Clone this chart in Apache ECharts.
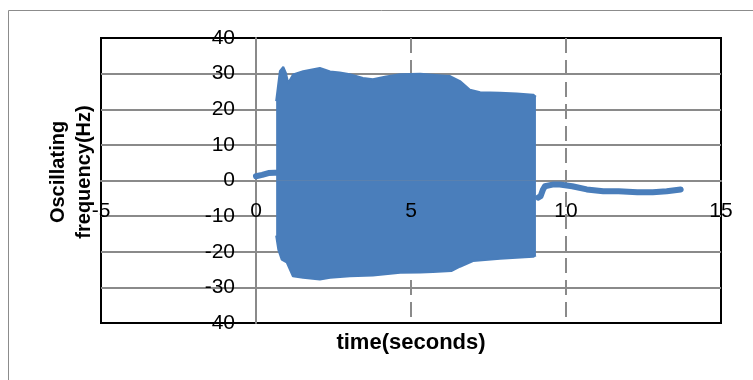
<!DOCTYPE html>
<html>
<head>
<meta charset="utf-8">
<script src="https://cdn.jsdelivr.net/npm/echarts@6/dist/echarts.min.js"></script>
<style>
html,body{margin:0;padding:0;background:#fff;}
#c{width:753px;height:380px;}
</style>
</head>
<body>
<div id="c"></div>
<script>
// Axis ticks
const xTicks = [-5, 0, 5, 10, 15];
const yTicks = [-40, -30, -20, -10, 0, 10, 20, 30, 40];

// Signal before oscillation (time s, frequency Hz)
const preT = [0, 0.2, 0.4, 0.6, 0.66];
const preV = [1.2, 1.6, 2.1, 2.2, 2.2];

// Upper envelope of oscillation
const upT = [0.65, 0.77, 0.88, 0.96, 1.04, 1.2, 1.52, 2.06, 2.39, 2.7, 3.03, 3.45, 3.77, 4.2, 4.65, 5.3, 6.0, 6.26, 6.58, 6.9, 7.23, 7.87, 8.41, 8.94, 9.03];
const upV = [22.3, 30.7, 31.9, 30.3, 27.4, 29.8, 30.7, 31.6, 30.6, 30.3, 29.8, 28.8, 28.4, 29.2, 29.8, 30.0, 29.5, 29.3, 27.9, 25.5, 24.8, 24.6, 24.4, 24.1, 23.5];

// Lower envelope of oscillation
const lowT = [0.65, 0.72, 0.83, 0.99, 1.19, 1.52, 2.06, 2.39, 3.03, 3.77, 4.65, 5.3, 5.71, 6.3, 6.58, 7.0, 7.87, 8.94, 9.03];
const lowV = [-15.5, -19.4, -22.2, -23.0, -26.9, -27.3, -27.8, -27.3, -26.9, -26.7, -25.9, -25.8, -25.7, -25.4, -24.2, -22.6, -22.0, -21.4, -21.0];

// Signal after oscillation
const postT = [9.1, 9.18, 9.26, 9.32, 9.6, 9.8, 10.2, 10.67, 11.2, 11.7, 12.3, 12.8, 13.25, 13.7];
const postV = [-4.8, -4.4, -2.5, -1.6, -1.1, -1.1, -1.6, -2.5, -3.0, -3.0, -3.3, -3.3, -3.0, -2.5];

const BLUE = '#4a7ebb';
const GRID = '#8a8a8a';
const FONT = 'Liberation Sans, Arial, sans-serif';

const zip = (a, b) => a.map((t, i) => [t, b[i]]);

const chart = echarts.init(document.getElementById('c'), null, {renderer: 'canvas'});
chart.setOption({
  animation: false,
  backgroundColor: '#fff',
  grid: {left: 101, top: 38, right: 32, bottom: 57, show: true, borderColor: '#000', borderWidth: 2,
    backgroundColor: 'transparent', containLabel: false, outerBoundsMode: 'none'},
  graphic: [
    {type: 'rect', z: -1, silent: true, shape: {x: 8.5, y: 10.5, width: 800, height: 400}, style: {fill: null, stroke: '#8c8c8c', lineWidth: 1}},
    {type: 'text', z: 10, x: 71, y: 172, rotation: Math.PI / 2,
      style: {text: 'Oscillating\nfrequency(Hz)', fontFamily: FONT, fontWeight: 'bold', fontSize: 20, lineHeight: 26,
        fill: '#000', align: 'center', verticalAlign: 'middle'}}
  ],
  xAxis: [
    {
      type: 'value', min: xTicks[0], max: xTicks[xTicks.length - 1], interval: 5, position: 'bottom', z: 0,
      offset: -142,
      axisLine: {show: true, onZero: false, lineStyle: {color: GRID, width: 2}},
      axisTick: {show: false}, axisLabel: {show: false},
      splitLine: {show: true, showMinLine: false, showMaxLine: false, lineStyle: {color: GRID, width: 2, type: [15, 7]}}
    },
    {
      type: 'value', min: xTicks[0], max: xTicks[xTicks.length - 1], interval: 5, position: 'bottom', z: 10,
      offset: -142,
      axisLine: {show: false, onZero: false}, axisTick: {show: false}, splitLine: {show: false},
      axisLabel: {show: true, margin: 20, color: '#000', fontSize: 21, fontFamily: FONT, showMinLabel: true, showMaxLabel: true},
      name: 'time(seconds)', nameLocation: 'middle', nameGap: 151,
      nameTextStyle: {color: '#000', fontSize: 22, fontWeight: 'bold', fontFamily: FONT}
    }
  ],
  yAxis: {
    type: 'value', min: yTicks[0], max: yTicks[yTicks.length - 1], interval: 10, position: 'left',
    offset: -155,
    axisLine: {show: true, onZero: false, lineStyle: {color: GRID, width: 2}},
    axisTick: {show: false},
    axisLabel: {margin: 21, color: '#000', fontSize: 21, fontFamily: FONT},
    splitLine: {show: true, showMinLine: false, showMaxLine: false, lineStyle: {color: GRID, width: 2}}
  },
  series: [
    {type: 'line', name: 'upper', data: zip(upT, upV), showSymbol: false, symbol: 'none',
      lineStyle: {color: BLUE, width: 2}, areaStyle: {color: BLUE, opacity: 1, origin: 'auto'}, z: 2},
    {type: 'line', name: 'lower', data: zip(lowT, lowV), showSymbol: false, symbol: 'none',
      lineStyle: {color: BLUE, width: 2}, areaStyle: {color: BLUE, opacity: 1, origin: 'auto'}, z: 2},
    {type: 'line', name: 'pre', data: zip(preT, preV), showSymbol: false, symbol: 'none',
      lineStyle: {color: BLUE, width: 6, cap: 'round', join: 'round'}, z: 3},
    {type: 'line', name: 'post', data: zip(postT, postV), showSymbol: false, symbol: 'none',
      lineStyle: {color: BLUE, width: 6, cap: 'round', join: 'round'}, z: 3}
  ]
});
</script>
</body>
</html>
